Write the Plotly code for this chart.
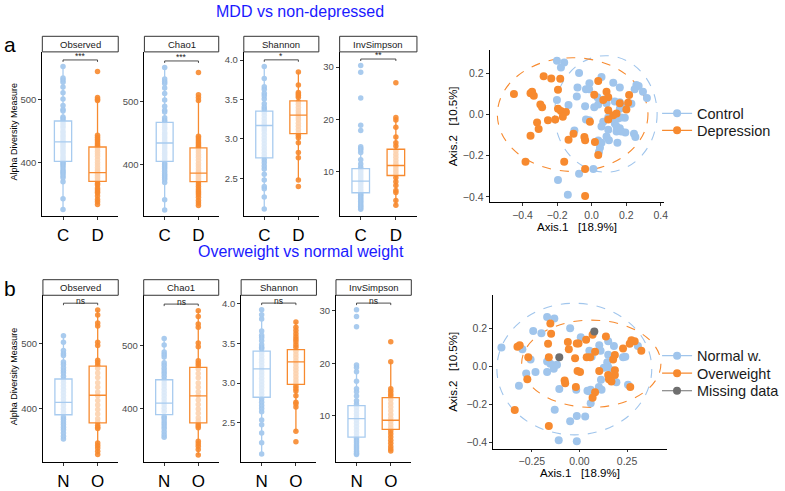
import plotly.graph_objects as go

W, H = 785, 491
def fx(p): return p / W
def fy(p): return 1 - p / H

FONT = "Liberation Sans, Arial, sans-serif"

# ---------------- data ----------------
metrics = ["Observed", "Chao1", "Shannon", "InvSimpson"]
top_groups = ["C", "D"]
bot_groups = ["N", "O"]
top_sig = ["***", "***", "*", "**"]
bot_sig = ["ns", "ns", "ns", "ns"]

# alpha diversity values, MDD (C = control, D = depression)
obs_C = [551.8, 533.8, 530.3, 527, 519.5, 510.3, 500.5, 490, 484, 481.5, 472, 469.7,
         466, 462, 458, 455, 450, 447, 443, 440, 436, 433, 430, 427, 424, 420, 417, 414, 410, 407, 404,
         400.5, 398, 395.4, 392, 387.7, 385, 382.6, 379, 375.9, 369.7, 343, 326]
obs_D = [544, 503, 500, 498, 443, 440, 437, 434, 431, 428, 426,
         422, 418, 414, 410, 405, 400, 396, 392, 388, 385, 383, 380, 377, 374, 371,
         367, 364.6, 360, 357, 354, 351.8, 347, 341.5, 338, 333.8]
chao_C = [553, 535, 531, 528, 521, 512, 502, 492, 486, 483, 474, 470,
          467, 463, 459, 456, 451, 448, 444, 441, 437, 434, 431, 428, 425, 421, 418, 415, 411, 408,
          403, 400, 397, 394, 390, 386, 383, 380, 377, 372, 345, 329]
chao_D = [545, 510, 506, 501, 445, 442, 439, 436, 433, 430, 428,
          424, 420, 416, 412, 407, 402, 398, 394, 390, 387, 385, 382, 379, 376, 374,
          370, 366, 362, 359, 356, 353, 349, 344, 340, 336]
shan_C = [3.919, 3.766, 3.66, 3.63, 3.578, 3.549, 3.507, 3.446, 3.405, 3.377,
          3.34, 3.30, 3.26, 3.22, 3.19, 3.16, 3.13, 3.10, 3.06, 3.02, 2.98, 2.94, 2.90, 2.86, 2.82, 2.78,
          2.736, 2.699, 2.658, 2.62, 2.552, 2.482, 2.399, 2.371, 2.264, 2.112]
shan_D = [3.849, 3.685, 3.59, 3.57, 3.55, 3.53,
          3.47, 3.44, 3.40, 3.36, 3.33, 3.30, 3.27, 3.24, 3.20, 3.16, 3.12, 3.08,
          3.048, 3.015, 2.953, 2.83, 2.761, 2.482, 2.399]
inv_C = [30.3, 29.0, 24.1, 18.84, 17.85, 14.7, 14.4, 14.1, 13.6, 12.2, 11.4, 10.8,
         10.3, 9.9, 9.5, 9.1, 8.7, 8.3, 7.9, 7.5, 7.1, 6.7, 6.3, 6.0,
         5.7, 5.4, 5.1, 4.8, 4.5, 4.2, 3.9, 3.6, 3.3, 3.0, 2.7]
inv_D = [27.0, 20.34, 19.85, 18.47, 16.6, 15.48, 14.86,
         13.9, 13.3, 12.7, 12.1, 11.5, 11.0, 10.5, 10.0, 9.5,
         8.75, 8.0, 7.3, 6.3, 5.94, 4.39, 3.5]

# alpha diversity values, weight (N = normal, O = overweight)
obs_N = [512, 502, 489.6, 485, 482, 472, 468, 463, 459, 455,
         450, 445, 440, 435, 430, 425, 420, 415, 410, 405, 400, 395,
         387.6, 384, 380, 376, 372, 368, 363, 358, 354]
obs_O = [551.8, 544, 531.8, 527, 502, 497, 474.6, 471, 467,
         462, 455, 448, 440, 433, 426, 420, 413, 406, 399, 392, 385, 380,
         375, 372, 370, 347.8, 344, 340, 335, 330]
chao_N = [511, 501, 490, 486, 482, 473, 469, 464, 460, 456,
          451, 446, 441, 436, 431, 426, 421, 416, 411, 406, 401, 396,
          388, 385, 381, 377, 373, 369, 364, 359, 355]
chao_O = [555, 546, 534, 529, 504, 498, 476, 472, 468,
          463, 456, 449, 441, 434, 427, 421, 414, 407, 400, 393, 386, 381,
          376, 373, 370, 349, 345, 341, 336, 327]
shan_N = [3.92, 3.858, 3.805, 3.655, 3.60, 3.573, 3.53, 3.48, 3.45, 3.43,
          3.38, 3.34, 3.30, 3.26, 3.22, 3.18, 3.14, 3.10, 3.06, 3.02, 2.98, 2.94, 2.90, 2.86,
          2.80, 2.76, 2.72, 2.68, 2.64, 2.537, 2.476, 2.374, 2.252, 2.11]
shan_O = [3.768, 3.70, 3.66, 3.62, 3.58, 3.55, 3.52, 3.48, 3.45,
          3.40, 3.36, 3.32, 3.28, 3.24, 3.20, 3.16, 3.12, 3.08, 3.04, 3.00,
          2.96, 2.93, 2.90, 2.84, 2.76, 2.74, 2.70, 2.395, 2.265]
inv_N = [30.2, 28.9, 26.96, 19.7, 19.2, 18.4, 16.6, 15.2, 14.6, 13.8, 12.9, 12.3,
         11.6, 11.0, 10.4, 9.8, 9.2, 8.6, 8.0, 7.4, 6.8, 6.2,
         5.7, 5.3, 4.9, 4.5, 4.1, 3.7, 3.3, 2.9, 2.7]
inv_O = [24.1, 20.3, 15.2, 14.7, 14.2, 13.8,
         13.1, 12.4, 11.7, 11.0, 10.3, 9.6, 9.0, 8.4, 7.8,
         7.2, 6.6, 6.0, 5.4, 4.8, 4.2, 3.7, 3.33]

# box statistics: [lower whisker, q1, median, q3, upper whisker]
box_obs_C = [326, 402, 432.8, 465.7, 551.8]
box_obs_D = [333.8, 370.3, 384.1, 424.6, 503]
box_chao_C = [329, 405.5, 434.3, 466.8, 553]
box_chao_D = [336, 373.5, 387, 426.5, 510]
box_shan_C = [2.112, 2.761, 3.171, 3.352, 3.919]
box_shan_D = [2.482, 3.069, 3.303, 3.483, 3.849]
box_inv_C = [2.7, 5.89, 8.13, 10.5, 14.7]
box_inv_D = [3.5, 9.2, 11.12, 14.24, 20.34]
box_obs_N = [354, 391, 410, 445.8, 512]
box_obs_O = [330, 378.6, 420.9, 465.7, 551.8]
box_chao_N = [355, 390.8, 409, 446, 511]
box_chao_O = [327, 378, 420.5, 465.6, 555]
box_shan_N = [2.11, 2.822, 3.179, 3.402, 3.92]
box_shan_O = [2.395, 2.984, 3.265, 3.42, 3.768]
box_inv_N = [2.7, 5.98, 9.5, 11.96, 19.7]
box_inv_O = [3.33, 7.46, 9.19, 13.5, 20.3]

# PCoA coordinates (Axis.1, Axis.2)
ctrl_x = [-0.201, -0.159, -0.178, -0.073, 0.057, -0.013, -0.082, -0.033, -0.015, 0.125, 0.163, 0.259, 0.272,
          0.249, 0.297, 0.320, -0.086, 0.033, 0.073, 0.086, -0.201, -0.134, -0.038, 0.015, 0.038, 0.134, 0.163,
          0.172, 0.163, 0.230, 0.096, 0.115, 0.134, 0.153, 0.172, 0.192, -0.033, -0.015, 0.067, 0.057, 0.096,
          0.144, 0.163, 0.144, 0.172, 0.195, 0.245, 0.253, -0.100, 0.086, 0.100, 0.038, 0.057, 0.149, 0.048,
          0.042, 0.010, -0.073, -0.195, -0.138]
ctrl_y = [0.262, 0.253, 0.229, 0.202, 0.183, 0.152, 0.131, 0.123, 0.123, 0.155, 0.131, 0.144, 0.139,
          0.123, 0.111, 0.081, 0.088, 0.084, 0.073, 0.055, 0.071, 0.047, 0.041, 0.036, 0.049, 0.063, 0.060,
          0.041, 0.028, 0.052, -0.014, -0.019, -0.043, -0.019, -0.014, -0.016, -0.024, -0.027, -0.035, -0.058, -0.074,
          -0.058, -0.066, -0.082, -0.082, -0.087, -0.093, -0.109, -0.077, -0.106, -0.125, -0.126, -0.137, -0.137, -0.161,
          -0.182, -0.264, -0.288, -0.318, -0.390]
dep_x = [-0.450, -0.354, -0.345, -0.335, -0.278, -0.234, -0.182, -0.195, -0.297, -0.287, -0.316, -0.307, -0.354,
         -0.253, -0.195, -0.178, -0.149, -0.167, -0.211, -0.105, -0.134, -0.042, -0.038, -0.010, 0.038, 0.015,
         0.086, 0.096, 0.067, 0.163, 0.211, 0.217, 0.201, 0.096, 0.125, 0.144, 0.096, 0.019, 0.038, -0.038,
         -0.383, -0.159, -0.038]
dep_y = [0.100, 0.104, 0.111, 0.092, 0.186, 0.175, 0.174, 0.120, 0.049, 0.036, -0.039, -0.070, -0.103,
         -0.027, 0.028, 0.017, 0.013, -0.011, -0.024, -0.093, -0.122, -0.109, -0.125, -0.035, 0.163, 0.096,
         0.111, 0.084, 0.071, 0.055, 0.057, 0.095, 0.025, 0.021, -0.003, 0.005, -0.024, -0.133, -0.196, -0.264,
         -0.229, -0.229, -0.395]
norm_x = [-0.410, -0.300, -0.257, -0.243, -0.200, -0.170, -0.132, -0.049, 0.007, 0.052, 0.064, 0.104, 0.111,
          0.151, 0.181, 0.151, 0.229, 0.241, 0.307, 0.146, 0.128, 0.168, 0.194, 0.255, 0.113, 0.102, 0.050,
          0.059, 0.042, 0.116, 0.059, -0.017, -0.106, -0.170, -0.153, -0.135, -0.135, -0.118, -0.170, -0.231,
          -0.280, -0.318, -0.130, -0.049, -0.014, 0.030, -0.109, -0.014, 0.151]
norm_y = [0.099, 0.090, 0.036, 0.187, 0.175, 0.260, 0.252, 0.201, 0.153, 0.082, 0.051, 0.111, 0.082,
          0.133, 0.107, 0.061, 0.048, 0.051, 0.107, 0.022, -0.007, -0.020, -0.083, -0.097, -0.071, -0.109, -0.131,
          -0.123, -0.128, -0.123, -0.194, -0.123, -0.119, 0.026, 0.014, 0.005, -0.012, 0.009, -0.029, -0.029,
          -0.037, -0.102, -0.228, -0.289, -0.262, -0.264, -0.390, -0.395, -0.003]
ow_x = [-0.326, -0.314, -0.269, -0.274, -0.340, -0.153, -0.149, -0.165, -0.161, -0.061, -0.056, -0.014, -0.005,
        -0.023, -0.010, 0.003, -0.078, -0.075, -0.019, 0.035, 0.069, 0.139, 0.082, 0.038, 0.056, 0.186, 0.177,
        0.229, 0.273, 0.264, 0.290, 0.325, 0.186, 0.186, 0.151, 0.104, 0.155, 0.168, 0.082, 0.069, 0.267, -0.161]
ow_y = [0.104, 0.111, 0.048, -0.068, -0.230, 0.226, 0.172, 0.119, 0.048, 0.129, 0.090, 0.121, 0.121,
        0.043, -0.024, -0.029, -0.075, -0.089, -0.109, 0.141, 0.167, 0.158, 0.077, 0.048, 0.048, 0.060, 0.036,
        0.094, 0.138, 0.119, 0.133, 0.082, -0.020, -0.046, -0.046, -0.024, -0.068, -0.080, -0.136, -0.165, -0.109, -0.315]
miss_x = [0.078, -0.106]
miss_y = [0.184, 0.048]

# 95% ellipses: [centre x, centre y, half-width, half-height]
ell_control = [0.082, 0.003, 0.297, 0.283]
ell_depression = [-0.110, 0.000, 0.436, 0.276]
ell_normal = [-0.027, -0.014, 0.407, 0.347]
ell_overweight = [0.062, 0.014, 0.366, 0.230]

pcoa_xlabel = "Axis.1\u00a0\u00a0\u00a0[18.9%]"
pcoa_ylabel = "Axis.2\u00a0\u00a0\u00a0[10.5%]"

# ---------------- styling ----------------
BLUE_PT = "#a0c5ec"
BLUE_BOX = "#a8cbef"
ORANGE = "#f78a2f"
GREY = "#6f6f6f"
TICKC = "#4d4d4d"

fig = go.Figure()
shapes, annotations = [], []
layout = {}

rows = [
    dict(groups=top_groups, sig=top_sig,
         pts={"Observed": (obs_C, obs_D), "Chao1": (chao_C, chao_D),
              "Shannon": (shan_C, shan_D), "InvSimpson": (inv_C, inv_D)},
         stats={"Observed": (box_obs_C, box_obs_D), "Chao1": (box_chao_C, box_chao_D),
                "Shannon": (box_shan_C, box_shan_D), "InvSimpson": (box_inv_C, box_inv_D)},
         xdoms=[(42.7, 119.3), (145.7, 220.7), (246, 321.7), (342.7, 420.7)],
         strip=(37.3, 53.3), plot=(53.3, 222),
         ranges=[(315.4, 574.9), (319.3, 577.6), (2.023, 4.103), (1.40, 32.93)]),
    dict(groups=bot_groups, sig=bot_sig,
         pts={"Observed": (obs_N, obs_O), "Chao1": (chao_N, chao_O),
              "Shannon": (shan_N, shan_O), "InvSimpson": (inv_N, inv_O)},
         stats={"Observed": (box_obs_N, box_obs_O), "Chao1": (box_chao_N, box_chao_O),
                "Shannon": (box_shan_N, box_shan_O), "InvSimpson": (box_inv_N, box_inv_O)},
         xdoms=[(43.3, 119.3), (145, 220.7), (243.3, 319.3), (339, 415)],
         strip=(287.3, 303.3), plot=(303.3, 475),
         ranges=[(317.9, 574.2), (315.4, 579.5), (2.004, 4.102), (1.17, 32.96)]),
]
tickvals = {"Observed": [400, 500], "Chao1": [400, 500],
            "Shannon": [2.5, 3.0, 3.5, 4.0], "InvSimpson": [10, 20, 30]}
tickfmt = {"Observed": "d", "Chao1": "d", "Shannon": ".1f", "InvSimpson": "d"}

ax = 0
for row in rows:
    for j, m in enumerate(metrics):
        ax += 1
        xa, ya = f"x{ax}", f"y{ax}"
        lo, hi = row["ranges"][j]
        span = hi - lo
        allv = []
        for k, g in enumerate(row["groups"]):
            vals = row["pts"][m][k]
            st = row["stats"][m][k]
            allv += vals
            pcol = BLUE_PT if k == 0 else ORANGE
            bcol = BLUE_BOX if k == 0 else ORANGE
            fig.add_trace(go.Box(
                x=[k + 1] * len(vals), y=vals, boxpoints="all", jitter=0, pointpos=0,
                marker=dict(color=pcol, size=5.5, opacity=0.9),
                line=dict(width=0, color="rgba(0,0,0,0)"), fillcolor="rgba(0,0,0,0)",
                width=0.5, whiskerwidth=0, xaxis=xa, yaxis=ya,
                showlegend=False, hoverinfo="skip"))
            fig.add_trace(go.Box(
                x=[k + 1], lowerfence=[st[0]], q1=[st[1]], median=[st[2]], q3=[st[3]],
                upperfence=[st[4]], width=0.5, whiskerwidth=0,
                fillcolor="rgba(255,255,255,0.62)", line=dict(color=bcol, width=1.3),
                boxpoints=False, xaxis=xa, yaxis=ya, showlegend=False, hoverinfo="skip"))
        x0, x1 = row["xdoms"][j]
        p0, p1 = row["plot"]
        layout[f"xaxis{ax}"] = dict(
            domain=[fx(x0), fx(x1)], range=[0.4, 2.6], type="linear", anchor=ya,
            tickvals=[1, 2], ticktext=row["groups"], showline=True, linecolor="black",
            linewidth=1, ticks="outside", ticklen=3, tickcolor="#333", showgrid=False,
            zeroline=False, tickfont=dict(size=17, color="black", family=FONT), fixedrange=True)
        layout[f"yaxis{ax}"] = dict(
            domain=[fy(p1), fy(p0)], range=[lo, hi], anchor=xa, tickvals=tickvals[m],
            tickformat=tickfmt[m], showline=True, linecolor="black", linewidth=1,
            ticks="outside", ticklen=3, tickcolor="#333", showgrid=False, zeroline=False,
            tickfont=dict(size=9.5, color=TICKC, family=FONT), fixedrange=True)
        # significance bracket
        yb = max(allv) + 0.04 * span
        tk = 0.012 * span
        for (a, b, c, d) in [(1, yb, 2, yb), (1, yb, 1, yb - tk), (2, yb, 2, yb - tk)]:
            shapes.append(dict(type="line", xref=xa, yref=ya, x0=a, y0=b, x1=c, y1=d,
                               line=dict(color="#222", width=0.8)))
        s = row["sig"][j]
        annotations.append(dict(xref=xa, yref=ya, x=1.5, y=yb, text=s, showarrow=False,
                                yanchor="bottom", yshift=-3 if s != "ns" else -5,
                                font=dict(size=8.5, color="#222", family=FONT)))
        # facet strip
        s0, s1 = row["strip"]
        shapes.append(dict(type="rect", xref="paper", yref="paper", x0=fx(x0), x1=fx(x1),
                           y0=fy(s1), y1=fy(s0), line=dict(color="#333", width=1),
                           fillcolor="white"))
        annotations.append(dict(xref="paper", yref="paper", x=fx((x0 + x1) / 2),
                                y=fy((s0 + s1) / 2), text=m, showarrow=False,
                                xanchor="center", yanchor="middle",
                                font=dict(size=9.5, color="#1a1a1a", family=FONT)))
        if j == 0:
            annotations.append(dict(xref="paper", yref="paper", x=fx(14.5), y=fy((p0 + p1) / 2 - 3),
                                    text="Alpha Diversity Measure", textangle=-90, showarrow=False,
                                    xanchor="center", yanchor="middle",
                                    font=dict(size=9, color="black", family=FONT)))

# ---------------- PCoA panels ----------------
pcoa = [
    dict(ax=9, xd=(494, 670), yd=(51.7, 208), xr=[-0.591, 0.419], yr=[-0.427, 0.312],
         xt=[-0.4, -0.2, 0.0, 0.2, 0.4], xf=".1f",
         groups=[("Control", ctrl_x, ctrl_y, BLUE_PT, ell_control),
                 ("Depression", dep_x, dep_y, ORANGE, ell_depression)],
         legend_rows=[112, 129.5], xtitle_y=233.5, ytitle_x=457),
    dict(ax=10, xd=(497.7, 673), yd=(303.3, 460.7), xr=[-0.453, 0.46], yr=[-0.433, 0.375],
         xt=[-0.25, 0.0, 0.25], xf=".2f",
         groups=[("Normal w.", norm_x, norm_y, BLUE_PT, ell_normal),
                 ("Overweight", ow_x, ow_y, ORANGE, ell_overweight),
                 ("Missing data", miss_x, miss_y, GREY, None)],
         legend_rows=[361, 379, 397], xtitle_y=485.5, ytitle_x=457),
]
leg_common = dict(xanchor="left", yanchor="top", bgcolor="rgba(0,0,0,0)", borderwidth=0,
                  itemwidth=30, tracegroupgap=0, font=dict(size=14.5, color="#1a1a1a", family=FONT))
leg_idx = 0
legends = {}
for p in pcoa:
    xa, ya = f"x{p['ax']}", f"y{p['ax']}"
    for gi, (name, gx, gy, col, ell) in enumerate(p["groups"]):
        fig.add_trace(go.Scatter(x=gx, y=gy, mode="markers", xaxis=xa, yaxis=ya,
                                 marker=dict(color=col, size=8), showlegend=False,
                                 hoverinfo="skip"))
        if ell is not None:
            cx, cy, a, b = ell
            shapes.append(dict(type="circle", xref=xa, yref=ya, x0=cx - a, x1=cx + a,
                               y0=cy - b, y1=cy + b, layer="below",
                               line=dict(color=col, width=1.1, dash="dash")))
        leg_idx += 1
        lname = "legend" if leg_idx == 1 else f"legend{leg_idx}"
        legends[lname] = dict(x=fx(663), y=fy(p["legend_rows"][gi] - 12), **leg_common)
        fig.add_trace(go.Scatter(x=[None], y=[None], mode="lines+markers", name=name,
                                 xaxis=xa, yaxis=ya, legend=lname,
                                 marker=dict(color=col, size=8), line=dict(color=col, width=1.2)))
    layout[f"xaxis{p['ax']}"] = dict(
        domain=[fx(p["xd"][0]), fx(p["xd"][1])], range=p["xr"], anchor=ya,
        tickvals=p["xt"], tickformat=p["xf"], showline=True, linecolor="black", linewidth=1,
        ticks="outside", ticklen=2.5, tickcolor="#333", showgrid=False, zeroline=False,
        tickfont=dict(size=10.5, color=TICKC, family=FONT), fixedrange=True)
    layout[f"yaxis{p['ax']}"] = dict(
        domain=[fy(p["yd"][1]), fy(p["yd"][0])], range=p["yr"], anchor=xa,
        tickvals=[-0.4, -0.2, 0.0, 0.2], tickformat=".1f", showline=True, linecolor="black",
        linewidth=1, ticks="outside", ticklen=3, tickcolor="#333", showgrid=False,
        zeroline=False, tickfont=dict(size=10.5, color=TICKC, family=FONT), fixedrange=True)
    annotations.append(dict(xref="paper", yref="paper", x=fx((p["xd"][0] + p["xd"][1]) / 2),
                            y=fy(p["xtitle_y"]), text=pcoa_xlabel, showarrow=False,
                            xanchor="center", yanchor="middle",
                            font=dict(size=11.5, color="black", family=FONT)))
    annotations.append(dict(xref="paper", yref="paper", x=fx(p["ytitle_x"]),
                            y=fy((p["yd"][0] + p["yd"][1]) / 2), text=pcoa_ylabel,
                            textangle=-90, showarrow=False, xanchor="center", yanchor="middle",
                            font=dict(size=11.5, color="black", family=FONT)))

# titles and panel letters
annotations += [
    dict(xref="paper", yref="paper", x=fx(303), y=fy(12), text="MDD vs non-depressed",
         showarrow=False, xanchor="center", yanchor="middle",
         font=dict(size=16, color="#1a1aff", family=FONT)),
    dict(xref="paper", yref="paper", x=fx(304), y=fy(258), text="Overweight vs normal weight",
         showarrow=False, xanchor="center", yanchor="middle",
         font=dict(size=16, color="#1a1aff", family=FONT)),
    dict(xref="paper", yref="paper", x=fx(10), y=fy(46), text="a", showarrow=False,
         xanchor="center", yanchor="middle", font=dict(size=21, color="black", family=FONT)),
    dict(xref="paper", yref="paper", x=fx(10), y=fy(296), text="b", showarrow=False,
         xanchor="center", yanchor="middle", font=dict(size=21, color="black", family=FONT)),
]

fig.update_layout(
    width=W, height=H, margin=dict(l=0, r=0, t=0, b=0),
    paper_bgcolor="white", plot_bgcolor="white",
    boxmode="overlay", shapes=shapes, annotations=annotations,
    font=dict(family=FONT),
    **legends, **layout)

fig.write_html("out.html")
